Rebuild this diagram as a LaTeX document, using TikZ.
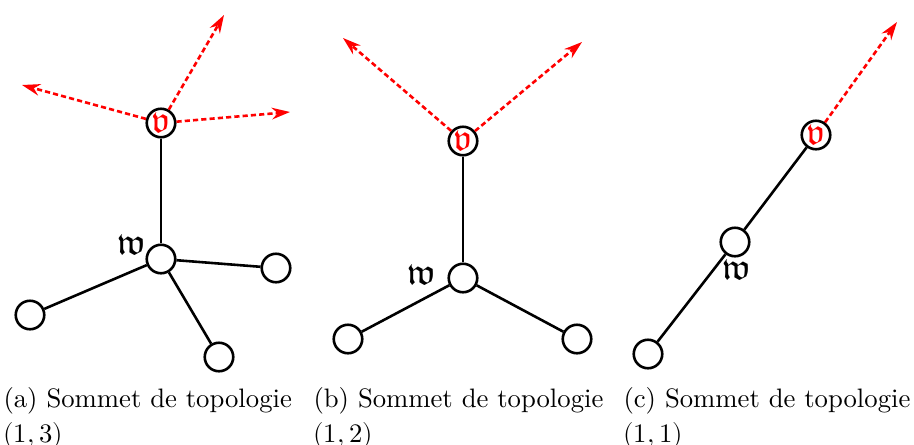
\documentclass[tikz,border=0pt]{standalone}
\usepackage{unicode-math}
\usetikzlibrary{arrows.meta}
\newcommand\vv{\textcolor{red}{\Large$\mfrakv$}}
\newcommand\ww{\Large$\mfrakw$}
\tikzset{
  vertex/.style={circle, draw, line width=1pt, minimum size=11pt, inner sep=0pt},
  edge/.style={line width=1pt},
  outarrow/.style={red, dash pattern=on 2pt off 1.2pt, line width=1pt, -{Stealth[length=7pt,width=4.5pt]}},
  caption/.style={anchor=north west, inner sep=0pt, align=left, font=\fontsize{10.3}{13.5}\selectfont}
}
\begin{document}
\begin{tikzpicture}[x=0.01357cm, y=-0.01357cm]
  \useasboundingbox (0,0) rectangle (914,445);

  % (a)
  \node[vertex] (va) at (161,123) {\vv};
  \node[vertex] (wa) at (161,259) {};
  \node[vertex] (la1) at (276,268) {};
  \node[vertex] (la2) at (30,315) {};
  \node[vertex] (la3) at (219,357) {};
  \coordinate (ta1) at (224,15);
  \coordinate (ta2) at (22,85);
  \coordinate (ta3) at (290,112);
  \draw[edge] (va) -- (wa);
  \draw[edge] (wa) -- (la1);
  \draw[edge] (wa) -- (la2);
  \draw[edge] (wa) -- (la3);
  \draw[outarrow] (va) -- (ta1);
  \draw[outarrow] (va) -- (ta2);
  \draw[outarrow] (va) -- (ta3);
  \node (wla) at (132,245) {\ww};
  \node[caption] (capa) at (3,387) {(a) Sommet de topologie\\$(1,3)$};

  % (b)
  \node[vertex] (vb) at (463,141) {\vv};
  \node[vertex] (wb) at (463,278) {};
  \node[vertex] (lb1) at (348,339) {};
  \node[vertex] (lb2) at (577,339) {};
  \coordinate (tb1) at (343,38);
  \coordinate (tb2) at (582,42);
  \draw[edge] (vb) -- (wb);
  \draw[edge] (wb) -- (lb1);
  \draw[edge] (wb) -- (lb2);
  \draw[outarrow] (vb) -- (tb1);
  \draw[outarrow] (vb) -- (tb2);
  \node (wlb) at (422,275) {\ww};
  \node[caption] (capb) at (313,387) {(b) Sommet de topologie\\$(1,2)$};

  % (c)
  \node[vertex] (vc) at (816,135) {\vv};
  \node[vertex] (wc) at (735,242) {};
  \node[vertex] (lc1) at (648,354) {};
  \coordinate (tc1) at (897,22);
  \draw[edge] (vc) -- (wc);
  \draw[edge] (wc) -- (lc1);
  \draw[outarrow] (vc) -- (tc1);
  \node (wlc) at (737,270) {\ww};
  \node[caption] (capc) at (623,387) {(c) Sommet de topologie\\$(1,1)$};
\end{tikzpicture}
\end{document}
